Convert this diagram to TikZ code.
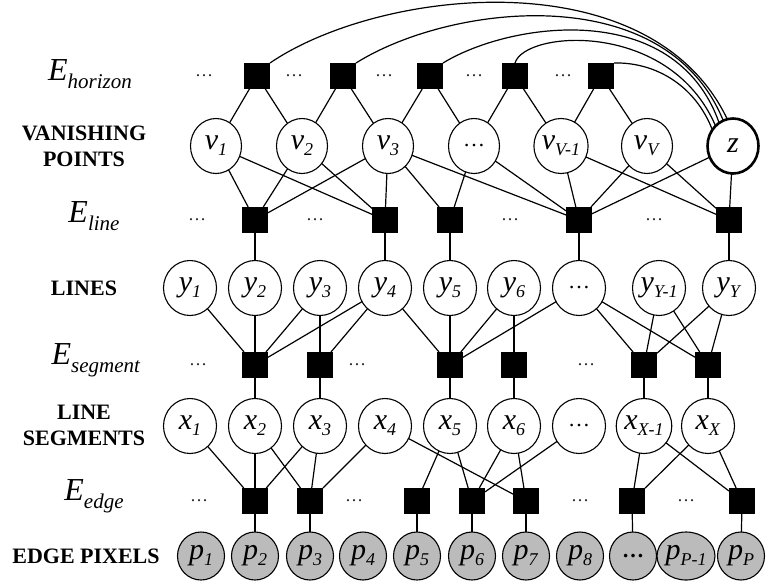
\documentclass[tikz,border=0pt]{standalone}
\usepackage{fontspec}
\setmainfont{Liberation Serif}
\usetikzlibrary{shapes.geometric}
\definecolor{pixgray}{RGB}{187,187,187}
\newcommand\nodefont{\fontsize{30}{32}\selectfont}
\newcommand\dotsfont{\fontsize{18}{18}\selectfont}
\newcommand\lblfont{\fontsize{22}{26}\selectfont\bfseries}
\newcommand\efont{\fontsize{32}{34}\selectfont}
\newcommand\nlab[2]{\textit{#1}\raisebox{-6pt}{\fontsize{18}{18}\selectfont\textit{#2}}}
\newcommand\elab[1]{\textit{E}\raisebox{-8pt}{\fontsize{21}{21}\selectfont\textit{#1}}}
\begin{document}
\begin{tikzpicture}[x=1pt,y=-1pt,
  every node/.style={inner sep=0pt, outer sep=0pt},
  rv/.style={draw, ellipse, line width=1.1pt, fill=white, minimum width=51pt, minimum height=55pt, font=\nodefont},
  lv/.style={rv, minimum width=53pt, minimum height=55pt},
  pv/.style={rv, fill=pixgray, minimum width=47pt, minimum height=48pt},
  zv/.style={rv, line width=2.6pt},
  fac/.style={fill=black, minimum width=26pt, minimum height=26pt},
  dts/.style={font=\dotsfont, text=black!85},
  lbl/.style={font=\lblfont, align=center},
  elbl/.style={font=\efont},
  cn/.style={line width=1.2pt}]
\useasboundingbox (0,0) rectangle (767,586);

% left labels
\node[elbl] (eh) at (90,74) {\elab{horizon}};
\node[lbl] (lvp) at (84,146) {VANISHING\\POINTS};
\node[elbl] (el) at (94,216) {\elab{line}};
\node[lbl] (lln) at (84,288) {LINES};
\node[elbl] (es) at (96,360) {\elab{segment}};
\node[lbl] (lls) at (84,425) {LINE\\SEGMENTS};
\node[elbl] (ee) at (94,496) {\elab{edge}};
\node[lbl] (lep) at (86,556) {EDGE PIXELS};

% horizon factors
\foreach \n/\x in {1/257,2/343,3/430,4/515,5/601} \node[fac] (H\n) at (\x,76) {};
\foreach \n/\x in {1/204,2/294,3/384,4/474,5/563} \node[dts] (hd\n) at (\x,76) {\ldots};

% vanishing points
\node[rv] (v1) at (216,146) {\nlab{v}{1}};
\node[rv] (v2) at (302,146) {\nlab{v}{2}};
\node[rv] (v3) at (388,146) {\nlab{v}{3}};
\node[rv] (vd) at (474,146) {\fontsize{22}{22}\selectfont\ldots};
\node[rv] (vV1) at (561,146) {\nlab{v}{V-1}};
\node[rv] (vV) at (647,146) {\nlab{v}{V}};
\node[zv] (z) at (733,146) {\textit{z}};

% line factors
\foreach \n/\x in {1/255,2/385,3/450,4/579,5/729} \node[fac] (L\n) at (\x,220) {};
\foreach \n/\x in {1/197,2/315,3/510,4/654} \node[dts] (ld\n) at (\x,220) {\ldots};

% lines
\node[lv] (y1) at (190,288) {\nlab{y}{1}};
\node[lv] (y2) at (255,288) {\nlab{y}{2}};
\node[lv] (y3) at (320,288) {\nlab{y}{3}};
\node[lv] (y4) at (385,288) {\nlab{y}{4}};
\node[lv] (y5) at (450,288) {\nlab{y}{5}};
\node[lv] (y6) at (514,288) {\nlab{y}{6}};
\node[lv] (yd) at (579,288) {\fontsize{22}{22}\selectfont\ldots};
\node[lv] (yY1) at (659,288) {\nlab{y}{Y-1}};
\node[lv] (yY) at (729,288) {\nlab{y}{Y}};

% segment factors
\foreach \n/\x in {1/255,2/320,3/450,4/514,5/644,6/708} \node[fac] (S\n) at (\x,365) {};
\foreach \n/\x in {1/198,2/357,3/586} \node[dts] (sd\n) at (\x,365) {\ldots};

% line segments
\node[lv] (x1) at (190,426) {\nlab{x}{1}};
\node[lv] (x2) at (255,426) {\nlab{x}{2}};
\node[lv] (x3) at (320,426) {\nlab{x}{3}};
\node[lv] (x4) at (385,426) {\nlab{x}{4}};
\node[lv] (x5) at (450,426) {\nlab{x}{5}};
\node[lv] (x6) at (514,426) {\nlab{x}{6}};
\node[lv] (xd) at (579,426) {\fontsize{22}{22}\selectfont\ldots};
\node[lv] (xX1) at (644,426) {\nlab{x}{X-1}};
\node[lv] (xX) at (708,426) {\nlab{x}{X}};

% edge factors
\foreach \n/\x in {1/255,2/310,3/417,4/472,5/526,6/632,7/742} \node[fac] (E\n) at (\x,501) {};
\foreach \n/\x in {1/199,2/354,3/580,4/686} \node[dts] (ed\n) at (\x,501) {\ldots};

% pixels
\node[pv] (p1) at (201,556) {\nlab{p}{1}};
\node[pv] (p2) at (255,556) {\nlab{p}{2}};
\node[pv] (p3) at (310,556) {\nlab{p}{3}};
\node[pv] (p4) at (363,556) {\nlab{p}{4}};
\node[pv] (p5) at (417,556) {\nlab{p}{5}};
\node[pv] (p6) at (472,556) {\nlab{p}{6}};
\node[pv] (p7) at (526,556) {\nlab{p}{7}};
\node[pv] (p8) at (580,556) {\nlab{p}{8}};
\node[pv] (pd) at (633,556) {\fontsize{22}{22}\selectfont\textbf{\ldots}};
\node[pv] (pP1) at (686,556) {\nlab{p}{P-1}};
\node[pv] (pP) at (741,556) {\nlab{p}{P}};

% horizon connections
\foreach \a/\b/\c in {H1/v1/v2,H2/v2/v3,H3/v3/vd,H4/vd/vV1,H5/vV1/vV}
  \draw[cn] (\b) -- (\a) -- (\c);
\draw[cn] (H1.north east) .. controls (380,-12) and (650,-42) .. (z.102);
\draw[cn] (H2.north east) .. controls (450,4) and (665,-22) .. (z.111);
\draw[cn] (H3.north east) .. controls (510,22) and (675,-2) .. (z.121);
\draw[cn] (H4.north) .. controls (525,30) and (670,20) .. (z.131);
\draw[cn] (H5.north east) .. controls (655,62) and (695,85) .. (z.142);

% line factor connections
\foreach \a/\b in {L1/v1,L1/v2,L1/v3,L2/v1,L2/v2,L2/v3,L3/v3,L3/vd,
  L4/v3,L4/vd,L4/vV1,L4/vV,L4/z,L5/vV1,L5/vV,L5/z,
  L1/y2,L2/y4,L3/y5,L4/yd,L5/yY}
  \draw[cn] (\a) -- (\b);

% segment factor connections
\foreach \a/\b in {S1/y1,S1/y2,S1/y3,S1/y4,S2/y3,S2/y4,S3/y4,S3/y5,S3/y6,S3/yd,
  S4/y6,S5/yd,S5/yY1,S5/yY,S6/yd,S6/yY1,S6/yY,
  S1/x2,S2/x3,S3/x5,S4/x6,S5/xX1,S6/xX}
  \draw[cn] (\a) -- (\b);

% edge factor connections
\foreach \a/\b in {E1/x1,E1/x2,E1/x3,E2/x2,E2/x3,E2/x4,E3/x5,E4/x5,E4/x6,E4/xd,
  E5/x4,E5/x6,E6/xX1,E6/xX,E7/xX1,E7/xX,
  E1/p2,E2/p3,E3/p5,E4/p6,E5/p7,E6/pd,E7/pP}
  \draw[cn] (\a) -- (\b);
\end{tikzpicture}
\end{document}
